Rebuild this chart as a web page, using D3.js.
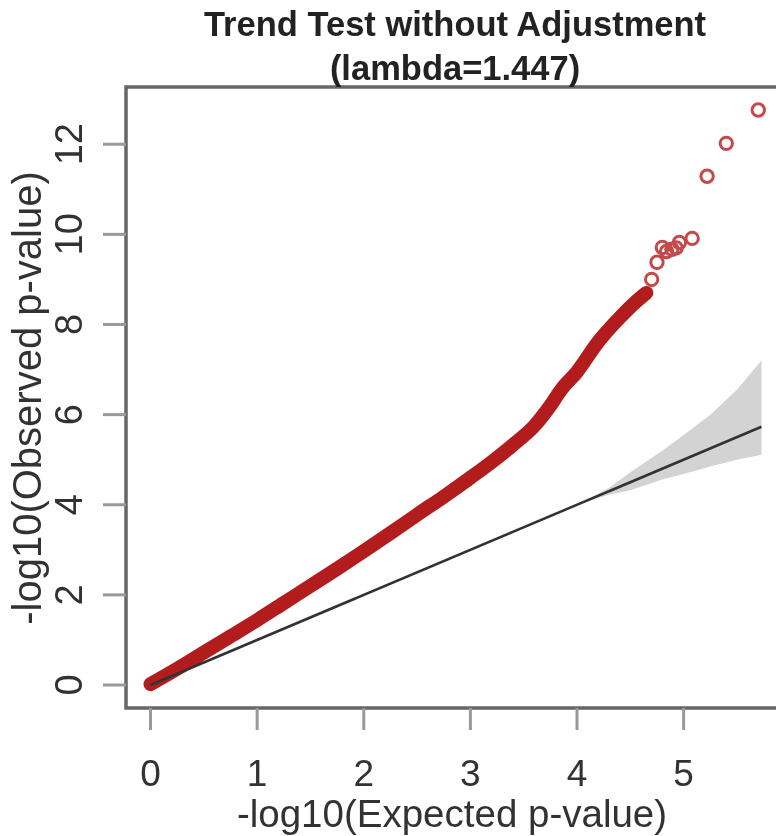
<!DOCTYPE html>
<html>
<head>
<meta charset="utf-8">
<script src="https://cdn.jsdelivr.net/npm/d3@7"></script>
<style>
  body { margin: 0; background: #fff; }
  svg { display: block; font-family: "Liberation Sans", Arial, sans-serif; }
</style>
</head>
<body>
<div id="chart"></div>
<script>
// dense part of the observed curve (-log10 expected vs observed)
const denseExpected = [0, 0.25, 0.5, 0.75, 1.0, 1.25, 1.5, 1.75, 2.0, 2.25, 2.5, 2.75, 3.0, 3.2, 3.4, 3.6, 3.75, 3.85, 4.0, 4.2, 4.4, 4.55, 4.65];
const denseObserved = [0.02, 0.36, 0.72, 1.08, 1.44, 1.82, 2.2, 2.58, 2.97, 3.37, 3.78, 4.18, 4.6, 4.95, 5.33, 5.75, 6.2, 6.55, 6.95, 7.62, 8.15, 8.5, 8.7];

// sparse tail, drawn as open circles
const tailExpected = [4.70, 4.75, 4.80, 4.84, 4.89, 4.93, 4.96, 5.08, 5.22, 5.40, 5.70];
const tailObserved = [9.0, 9.38, 9.71, 9.62, 9.67, 9.7, 9.82, 9.91, 11.29, 12.02, 12.76];

// 95% band around the diagonal
const bandX = [4.1, 4.3, 4.5, 4.8, 5.0, 5.25, 5.5, 5.73];
const bandUpper = [4.12, 4.38, 4.72, 5.2, 5.55, 6.0, 6.55, 7.2];
const bandLower = [4.08, 4.22, 4.32, 4.56, 4.68, 4.85, 5.0, 5.11];

const diagonal = [0, 5.73];

const xTicks = [0, 1, 2, 3, 4, 5];
const yTicks = [0, 2, 4, 6, 8, 10, 12];

const titleLines = ["Trend Test without Adjustment", "(lambda=1.447)"];
const xLabel = "-log10(Expected p-value)";
const yLabel = "-log10(Observed p-value)";

const width = 776, height = 836;
const box = { left: 126, right: 786, top: 87, bottom: 708 };

const svg = d3.select("#chart").append("svg")
  .attr("width", width)
  .attr("height", height);

const blur = svg.append("defs").append("filter").attr("id", "soft");
blur.append("feGaussianBlur").attr("stdDeviation", 0.6);

const g = svg.append("g").attr("filter", "url(#soft)");

const x = d3.scaleLinear().domain([-0.23, 5.96]).range([box.left, box.right]);
const y = d3.scaleLinear().domain([-0.51, 13.27]).range([box.bottom, box.top]);

// confidence band
const band = bandX.map((d, i) => ({ x: d, lo: bandLower[i], hi: bandUpper[i] }));
g.append("path")
  .datum(band)
  .attr("fill", "#d3d3d3")
  .attr("d", d3.area().x(d => x(d.x)).y0(d => y(d.lo)).y1(d => y(d.hi)));

// dense observed points
const dense = denseExpected.map((d, i) => [d, denseObserved[i]]);
g.append("path")
  .datum(dense)
  .attr("fill", "none")
  .attr("stroke", "#b31e1e")
  .attr("stroke-width", 14)
  .attr("stroke-linecap", "round")
  .attr("stroke-linejoin", "round")
  .attr("d", d3.line().x(d => x(d[0])).y(d => y(d[1])).curve(d3.curveMonotoneX));

// tail points
const tail = tailExpected.map((d, i) => [d, tailObserved[i]]);
g.selectAll(".tail")
  .data(tail)
  .join("circle")
    .attr("class", "tail")
    .attr("cx", d => x(d[0]))
    .attr("cy", d => y(d[1]))
    .attr("r", 6.2)
    .attr("fill", "none")
    .attr("stroke", "#c44a4a")
    .attr("stroke-width", 3);

// expected line
g.append("path")
  .datum(diagonal)
  .attr("fill", "none")
  .attr("stroke", "#333")
  .attr("stroke-width", 2.6)
  .attr("d", d3.line().x(d => x(d)).y(d => y(d)));

// box
g.append("rect")
  .attr("x", box.left)
  .attr("y", box.top)
  .attr("width", box.right - box.left)
  .attr("height", box.bottom - box.top)
  .attr("fill", "none")
  .attr("stroke", "#666")
  .attr("stroke-width", 3.5);

// x axis ticks
g.selectAll(".xtick")
  .data(xTicks)
  .join("line")
    .attr("class", "xtick")
    .attr("x1", d => x(d)).attr("x2", d => x(d))
    .attr("y1", box.bottom).attr("y2", box.bottom + 22)
    .attr("stroke", "#999")
    .attr("stroke-width", 3);

g.selectAll(".xlab")
  .data(xTicks)
  .join("text")
    .attr("class", "xlab")
    .attr("x", d => x(d))
    .attr("y", 786)
    .attr("text-anchor", "middle")
    .attr("font-size", 37)
    .attr("fill", "#333")
    .text(d => d);

// y axis ticks
g.selectAll(".ytick")
  .data(yTicks)
  .join("line")
    .attr("class", "ytick")
    .attr("x1", box.left - 23).attr("x2", box.left)
    .attr("y1", d => y(d)).attr("y2", d => y(d))
    .attr("stroke", "#999")
    .attr("stroke-width", 3);

g.selectAll(".ylab")
  .data(yTicks)
  .join("text")
    .attr("class", "ylab")
    .attr("transform", d => `translate(82,${y(d)}) rotate(-90)`)
    .attr("text-anchor", "middle")
    .attr("font-size", 38)
    .attr("fill", "#333")
    .text(d => d);

// axis titles
g.append("text")
  .attr("x", 452)
  .attr("y", 827)
  .attr("text-anchor", "middle")
  .attr("font-size", 38.5)
  .attr("fill", "#333")
  .text(xLabel);

g.append("text")
  .attr("transform", "translate(41,398) rotate(-90)")
  .attr("text-anchor", "middle")
  .attr("font-size", 40)
  .attr("fill", "#333")
  .text(yLabel);

// title
g.selectAll(".title")
  .data(titleLines)
  .join("text")
    .attr("class", "title")
    .attr("x", 455)
    .attr("y", (d, i) => i === 0 ? 36 : 80)
    .attr("text-anchor", "middle")
    .attr("font-size", 34.5)
    .attr("font-weight", "bold")
    .attr("fill", "#222")
    .text(d => d);
</script>
</body>
</html>
